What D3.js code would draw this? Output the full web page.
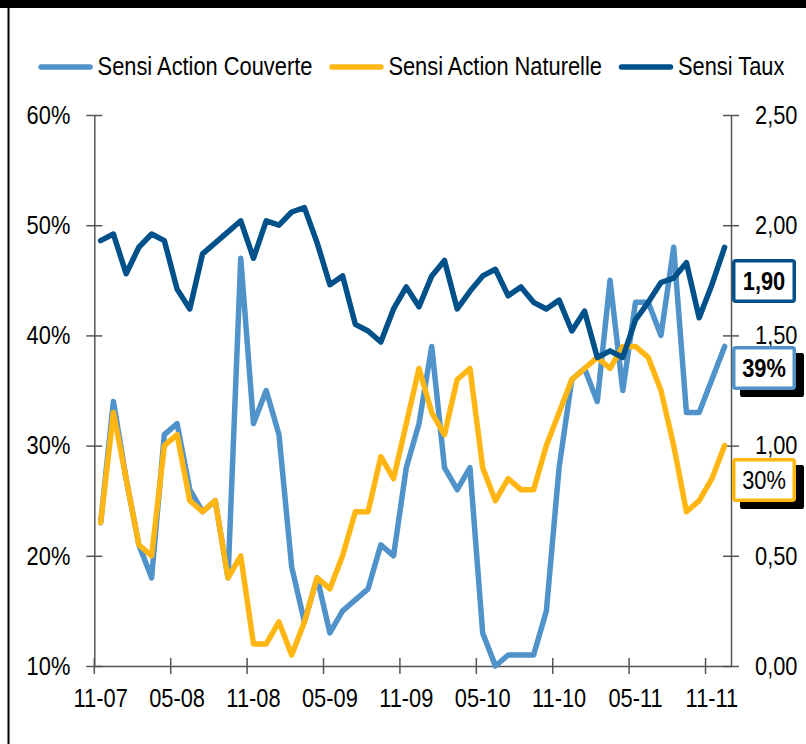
<!DOCTYPE html>
<html>
<head>
<meta charset="utf-8">
<script src="https://cdn.jsdelivr.net/npm/d3@7"></script>
<style>
  body { margin: 0; background: #fff; }
  svg { display: block; font-family: "Liberation Sans", Arial, sans-serif; }
</style>
</head>
<body>
<div class="wrapper"></div>
<script>
// monthly categories, nov 2007 -> dec 2011
var months = ["11-07","12-07",
  "01-08","02-08","03-08","04-08","05-08","06-08","07-08","08-08","09-08","10-08","11-08","12-08",
  "01-09","02-09","03-09","04-09","05-09","06-09","07-09","08-09","09-09","10-09","11-09","12-09",
  "01-10","02-10","03-10","04-10","05-10","06-10","07-10","08-10","09-10","10-10","11-10","12-10",
  "01-11","02-11","03-11","04-11","05-11","06-11","07-11","08-11","09-11","10-11","11-11","12-11"];
var tickMonths = ["11-07","05-08","11-08","05-09","11-09","05-10","11-10","05-11","11-11"];

// left axis (%)
var couverte = [23,34,27,21,18,31,32,26,24,25,18,47,32,35,31,19,14,18,13,15,16,17,21,20,28,
  32,39,28,26,28,13,10,11,11,11,15,28,36,37,34,45,35,43,43,40,48,33,33,36,39];
var naturelle = [23,33,27,21,20,30,31,25,24,25,18,20,12,12,14,11,14,18,17,20,24,24,29,27,32,
  37,33,31,36,37,28,25,27,26,26,30,33,36,37,38,37,39,39,38,35,30,24,25,27,30];
// right axis
var taux = [1.93,1.96,1.78,1.90,1.96,1.93,1.71,1.62,1.87,1.92,1.97,2.02,1.85,2.02,2.00,2.06,2.08,1.92,1.73,1.77,
  1.55,1.52,1.47,1.62,1.72,1.63,1.77,1.84,1.62,1.70,1.77,1.80,1.68,1.72,1.65,1.62,1.66,1.52,1.61,1.40,
  1.43,1.40,1.57,1.65,1.74,1.76,1.83,1.58,1.73,1.90];

var leftTicks = [10, 20, 30, 40, 50, 60];
var rightTicks = [0, 0.5, 1, 1.5, 2, 2.5];
var seriesNames = ["Sensi Action Couverte", "Sensi Action Naturelle", "Sensi Taux"];

var cCouv = "#5093CA", cNat = "#FFB612", cTaux = "#00508A";
var width = 806, height = 744;
var fontSize = 26;
var squeeze = 0.84;
var fr = d3.formatLocale({decimal: ",", thousands: " ", grouping: [3], currency: ["", "€"]}).format(".2f");

var svg = d3.select(".wrapper").append("svg")
  .attr("width", width)
  .attr("height", height);

// frame: black bar on top + left rule
svg.append("rect").attr("x", 0).attr("y", 0).attr("width", width).attr("height", 8).attr("fill", "#000");
svg.append("rect").attr("x", 7.5).attr("y", 0).attr("width", 2).attr("height", height).attr("fill", "#000");

var plot = {left: 94.3, right: 731, top: 115, bottom: 666};
var x = d3.scaleBand().domain(months).range([plot.left, plot.right]);
var yL = d3.scaleLinear().domain([10, 60]).range([plot.bottom, plot.top]);
var yR = d3.scaleLinear().domain([0, 2.5]).range([plot.bottom, plot.top]);
function cx(d, i) { return x(months[i]) + x.bandwidth() / 2; }

// squeeze text horizontally (font in the picture is narrow)
function narrow(sel) {
  sel.each(function() {
    var t = d3.select(this);
    t.attr("x", (+t.attr("x") || 0) / squeeze).attr("transform", "scale(" + squeeze + ",1)");
  });
}

function styleAxis(g) {
  g.attr("font-size", fontSize).attr("font-family", null);
  g.select(".domain").attr("stroke", "#555").attr("stroke-width", 1.5);
  g.selectAll(".tick line").attr("stroke", "#555").attr("stroke-width", 1.5);
  g.selectAll(".tick text").attr("fill", "#000").call(narrow);
}

var gL = svg.append("g")
  .attr("transform", "translate(" + plot.left + ",0)")
  .call(d3.axisLeft(yL).tickValues(leftTicks).tickSize(8).tickPadding(16).tickSizeOuter(0)
    .tickFormat(function(d) { return d + "%"; }));
gL.selectAll(".tick line").attr("x1", -8).attr("x2", 8);
styleAxis(gL);

var gR = svg.append("g")
  .attr("transform", "translate(" + plot.right + ",0)")
  .call(d3.axisRight(yR).tickValues(rightTicks).tickSize(8).tickPadding(16).tickSizeOuter(0)
    .tickFormat(fr));
gR.selectAll(".tick line").attr("x1", -8).attr("x2", 8);
styleAxis(gR);

var gX = svg.append("g")
  .attr("transform", "translate(0," + plot.bottom + ")")
  .call(d3.axisBottom(x).tickValues(tickMonths).tickSize(8).tickPadding(15).tickSizeOuter(0));
// tick marks sit between categories, labels stay centred
gX.selectAll(".tick line")
  .attr("x1", -x.bandwidth() / 2).attr("x2", -x.bandwidth() / 2)
  .attr("y1", -8).attr("y2", 8);
styleAxis(gX);

// lines
var lineL = d3.line().x(cx).y(function(d) { return yL(d); });
var lineR = d3.line().x(cx).y(function(d) { return yR(d); });

[[couverte, lineL, cCouv], [naturelle, lineL, cNat], [taux, lineR, cTaux]].forEach(function(s) {
  svg.append("path")
    .datum(s[0])
    .attr("d", s[1])
    .attr("fill", "none")
    .attr("stroke", s[2])
    .attr("stroke-width", 5.5)
    .attr("stroke-linejoin", "round")
    .attr("stroke-linecap", "round");
});

// legend
var colors = [cCouv, cNat, cTaux];
var lx = 38.6;
seriesNames.forEach(function(name, i) {
  svg.append("line")
    .attr("x1", lx + 2.5).attr("x2", lx + 51.5)
    .attr("y1", 67).attr("y2", 67)
    .attr("stroke", colors[i]).attr("stroke-width", 5.5).attr("stroke-linecap", "round");
  var t = svg.append("text")
    .attr("x", lx + 59)
    .attr("y", 75.5)
    .attr("font-size", fontSize)
    .attr("fill", "#000")
    .text(name)
    .call(narrow);
  lx = lx + 59 + t.node().getComputedTextLength() * squeeze + 17;
});

// value tags on the right
var tags = [
  {text: fr(taux[taux.length - 1]), color: cTaux, y: 259, bold: true, shadow: false},
  {text: couverte[couverte.length - 1] + "%", color: cCouv, y: 346, bold: true, shadow: true},
  {text: naturelle[naturelle.length - 1] + "%", color: cNat, y: 458, bold: false, shadow: true}
];
var bx = 732, bw = 64, bh = 44;
tags.forEach(function(d) {
  if (d.shadow) {
    svg.append("rect")
      .attr("x", bx + 8).attr("y", d.y + 7)
      .attr("width", bw).attr("height", bh)
      .attr("rx", 2)
      .attr("fill", "#000");
  }
  svg.append("rect")
    .attr("x", bx + 1.75).attr("y", d.y + 1.75)
    .attr("width", bw - 3.5).attr("height", bh - 3.5)
    .attr("rx", 2)
    .attr("fill", "#fff")
    .attr("stroke", d.color)
    .attr("stroke-width", 3.5);
  svg.append("text")
    .attr("x", bx + bw / 2)
    .attr("y", d.y + 31)
    .attr("text-anchor", "middle")
    .attr("font-size", fontSize)
    .attr("font-weight", d.bold ? "bold" : "normal")
    .attr("fill", "#000")
    .text(d.text)
    .call(narrow);
});
</script>
</body>
</html>
